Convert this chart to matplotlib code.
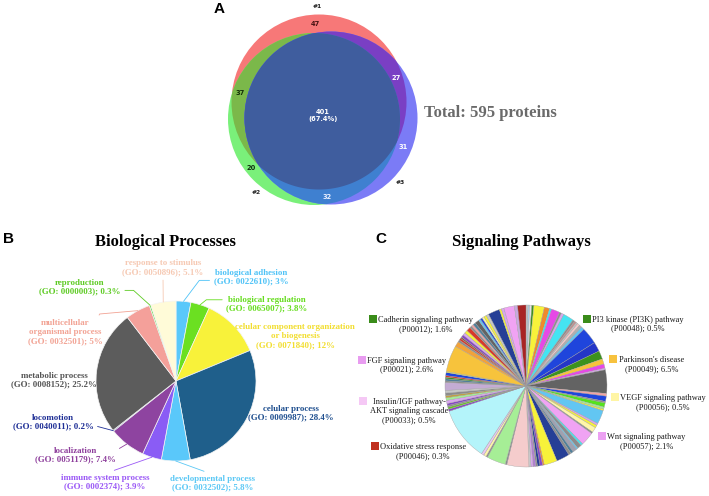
import numpy as np
import matplotlib
matplotlib.use("Agg")
import matplotlib.pyplot as plt
from matplotlib.patches import Circle, Polygon, Rectangle

# ---- data ----
# venn region counts: #1 only, #1&#2, #2 only, #2&#3, #3 only, #1&#3, all three
venn_counts = [47, 37, 20, 32, 31, 27, 401]
venn_sets = ["#1", "#2", "#3"]
total_proteins = 595

bp_names = ["biological adhesion", "biological regulation",
            "celular component organization\nor biogenesis", "celular process",
            "developmental process", "immune system process", "localization",
            "locomotion", "metabolic process", "multicellular\norganismal process",
            "reproduction", "response to stimulus"]
bp_go = ["0022610", "0065007", "0071840", "0009987", "0032502", "0002374",
         "0051179", "0040011", "0008152", "0032501", "0000003", "0050896"]
bp_pct = [3, 3.8, 12, 28.4, 5.8, 3.9, 7.4, 0.2, 25.2, 5, 0.3, 5.1]
bp_colors = ["#5ac8fa", "#6be021", "#f8f23a", "#1f5f8b", "#5ac8fa", "#8a5cf5",
             "#8e44a0", "#1c2a80", "#5c5c5c", "#f4a09a", "#5bd83a", "#fffbd8"]
bp_text_colors = ["#4fc3f7", "#66dd1e", "#f2de30", "#1f4f8f", "#5bc8f5", "#9b59f6",
                  "#8e3f9c", "#1f2f96", "#555555", "#f2a394", "#5ecb24", "#f6c9b3"]

# signaling pathway slices, clockwise from 12 o'clock
sp_vals = [0.4, 0.3, 0.4, 0.4, 2.0, 1.0, 0.4, 1.6, 0.4, 0.5, 2.0, 0.4, 0.4, 0.3, 0.5, 0.5, 0.6,
           3.2, 1.8, 1.6, 1.0, 0.8, 0.3, 4.5, 0.5, 1.0, 0.3, 0.8, 0.4, 0.3, 2.6, 0.4, 0.5, 1.0,
           0.3, 2.6, 0.4, 0.8, 0.3, 0.8, 0.5, 0.5, 2.5, 2.5, 0.3, 0.5, 0.5, 0.3, 0.5, 0.4, 0.4,
           4.2, 0.3, 3.6, 0.3, 0.5, 0.5, 10.2, 0.4, 0.4, 0.3, 0.4, 0.6, 0.5, 0.4, 0.5, 0.5,
           1.5, 0.3, 0.4, 0.3, 0.3, 0.6, 0.2, 5.0, 1.0, 0.4, 0.4, 0.3, 0.5, 0.5, 0.6, 0.8,
           0.4, 0.4, 0.5, 0.8, 0.4, 0.4, 0.4, 0.5, 0.5, 2.2, 0.4, 0.5, 2.0, 0.6, 1.6]
sp_colors = ["#c8c8c8", "#a8cde8", "#e4e4e4", "#3c921e", "#f7f23a", "#f08a2c", "#44e4f2",
             "#e649e6", "#8c8c8c", "#d9a6ef", "#44e4f2", "#8c8c8c", "#c09090", "#c8c8c8",
             "#f5c8c8", "#b0b0b0", "#62c6f2",
             "#1f45dc", "#2436c8", "#3c921e", "#f7c33c", "#e649e6", "#d9a6ef", "#636363",
             "#f2a3a3", "#1f45dc", "#8c8c8c", "#55e21e", "#a6ee96", "#f7f23a", "#62c6f2",
             "#d9a6ef", "#f7f23a", "#fff6a8", "#8c8c8c", "#f0a3f3", "#44e4f2", "#8c8c8c",
             "#62c6f2", "#a0a0b0", "#4f7f9a", "#8c8c8c", "#263f96", "#f7f23a", "#f08a2c",
             "#8646c6", "#263f96", "#8c8c8c", "#b080d0", "#d9a6ef", "#c8c8c8",
             "#f5cccc", "#8c8c8c", "#a6ee96", "#8c8c8c", "#fff6a8", "#e8c8f0", "#b4f4fa",
             "#8646c6", "#6cc22a", "#8c8c8c", "#8646c6", "#d9a6ef", "#a6ee96", "#c0a040",
             "#8c8c8c", "#c8c8c8", "#c4acd4", "#8c8c8c", "#4f7f9a", "#3c921e", "#d8392a",
             "#1f45dc", "#f7f23a", "#f7c33c", "#f2a23a", "#8c8c8c", "#d8392a", "#8a5a3a",
             "#8646c6", "#d9a6ef", "#f7f23a", "#d8392a", "#8c8c8c", "#f2a3a3", "#4f7f9a",
             "#636363", "#62c6f2", "#1f45dc", "#fff6a8", "#f7f23a", "#c8c8c8", "#263f96",
             "#f7f23a", "#d9a6ef", "#f0a3f3", "#c8a8e0", "#a82424"]

sp_legend = ["Cadherin signaling pathway\n(P00012); 1.6%",
             "PI3 kinase (PI3K) pathway\n(P00048); 0.5%",
             "FGF signaling pathway\n(P00021); 2.6%",
             "Parkinson's disease\n(P00049); 6.5%",
             "Insulin/IGF pathway-\nAKT signaling cascade\n(P00033); 0.5%",
             "VEGF signaling pathway\n(P00056); 0.5%",
             "Oxidative stress response\n(P00046); 0.3%",
             "Wnt signaling pathway\n(P00057); 2.1%"]
sp_legend_colors = ["#3a8c1a", "#3a8c1a", "#e89cf0", "#f7c23e",
                    "#f5c8f5", "#fff5a5", "#c0301f", "#eca0f2"]

# ---- layout (pixel coords, y down) ----
W, H = 709, 496
SERIF = "Liberation Serif"
SANS = "Liberation Sans"

venn_circles = [((319, 102), 87.5), ((314, 119), 86), ((331, 118), 86.5)]
venn_region_colors = ["#f77878", "#7bb84a", "#7af07a", "#3f80d0", "#7b7bf6", "#7a3fc4", "#3f5d9e"]
venn_count_pos = [(315, 24), (240, 93), (251, 168), (327, 197), (403, 147), (396, 78), (323, 115)]
venn_count_col = ["#4a1414", "#142e08", "#103010", "#e8eeff", "white", "white", "white"]
venn_set_pos = [(317, 7), (256, 192), (400, 182)]

bp_center, bp_r = (176, 381), 80
bp_text_pos = [(251, 277), (267, 304), (295, 336), (291, 413), (213, 483), (105, 482),
               (75, 455), (53, 422), (54, 380), (65, 332), (80, 287), (163, 267.5)]
# leader line: None = no line, else (relpos, connectionstyle)
bp_leader = [((0, 0.3), "angle,angleA=0,angleB=53,rad=0"),
             ((0, 0.75), "angle,angleA=0,angleB=39,rad=0"),
             None, None,
             ((0.5, 1), "arc3"),
             ((0.5, 1), "arc3"),
             ((1, 0.75), "arc3"),
             ((1, 0.3), "arc3"),
             None,
             ((0.85, 0.55), "angle,angleA=63,angleB=5,rad=0"),
             ((1, 0.3), "angle,angleA=0,angleB=138,rad=0"),
             ((0.5, 0), "arc3")]

sp_center, sp_r = (526, 386), 81
sp_text_pos = [(426, 324.3), (638, 324), (407, 365), (652, 364.7),
               (409, 411.4), (663, 402.8), (423, 451.3), (646.5, 441.3)]
sp_box_pos = [(373.3, 319.3), (586.7, 319.3), (361.7, 360), (613, 359.3),
              (363, 400.7), (615, 397.3), (375, 446), (601.7, 436)]

fig = plt.figure(figsize=(W / 100, H / 100), dpi=100)
base = fig.add_axes([0, 0, 1, 1])
base.set_xlim(0, W)
base.set_ylim(H, 0)
base.axis("off")


def circ(i, color):
    (cx, cy), r = venn_circles[i]
    return Circle((cx, cy), r, facecolor=color, edgecolor="none", transform=base.transData)


# venn: draw circles, then overlaps via clipping
red, olive, green, b23, blue, purple, core = venn_region_colors
base.add_patch(circ(0, red))
base.add_patch(circ(1, green))
p = circ(1, olive); base.add_patch(p); p.set_clip_path(circ(0, "none"))
base.add_patch(circ(2, blue))
p = circ(2, purple); base.add_patch(p); p.set_clip_path(circ(0, "none"))
p = circ(2, b23); base.add_patch(p); p.set_clip_path(circ(1, "none"))

# triple overlap polygon
t = np.linspace(0, 2 * np.pi, 1500)
pts = []
for (cx, cy), r in venn_circles:
    pts.append(np.c_[cx + r * np.cos(t), cy + r * np.sin(t)])
pts = np.vstack(pts)
inside = np.ones(len(pts), bool)
for (cx, cy), r in venn_circles:
    inside &= np.hypot(pts[:, 0] - cx, pts[:, 1] - cy) <= r + 1e-6
pts = pts[inside]
m = pts.mean(axis=0)
pts = pts[np.argsort(np.arctan2(pts[:, 1] - m[1], pts[:, 0] - m[0]))]
base.add_patch(Polygon(pts, closed=True, facecolor=core, edgecolor="none"))

for i, n in enumerate(venn_counts):
    s = str(n)
    if i == 6:
        s = "%d\n(%.1f%%)" % (n, 100 * n / total_proteins)
    base.text(*venn_count_pos[i], s, ha="center", va="center", fontsize=4.8,
              fontweight="bold", color=venn_count_col[i], family="DejaVu Sans")
for name, (x, y) in zip(venn_sets, venn_set_pos):
    base.text(x, y, name, ha="center", va="center", fontsize=4.3, fontweight="bold",
              color="#222222", family="DejaVu Sans")

base.text(424, 117, "Total: %d proteins" % total_proteins, ha="left", va="baseline",
          fontsize=12, fontweight="bold", color="#6a6a6a", family=SERIF)

# panel letters and titles
for s, (x, y) in zip("ABC", [(219, 9), (9, 239), (381, 239)]):
    base.text(x, y, s, ha="center", va="center", fontsize=11, fontweight="bold", family=SANS)
base.text(165, 242.5, "Biological Processes", ha="center", va="center", fontsize=12,
          fontweight="bold", family=SERIF)
base.text(521, 242, "Signaling Pathways", ha="center", va="center", fontsize=12,
          fontweight="bold", family=SERIF)


def pie_axes(center, r):
    cx, cy = center
    return fig.add_axes([(cx - r) / W, (H - cy - r) / H, 2 * r / W, 2 * r / H])


# panel B
axB = pie_axes(bp_center, bp_r)
wedges, _ = axB.pie(bp_pct, colors=bp_colors, startangle=90, counterclock=False,
                    wedgeprops=dict(edgecolor="#f4f4f4", linewidth=0.5))
axB.set_xlim(-1, 1)
axB.set_ylim(-1, 1)
for i, w in enumerate(wedges):
    label = "%s\n(GO: %s); %g%%" % (bp_names[i], bp_go[i], bp_pct[i])
    tx, ty = bp_text_pos[i]
    ang = np.deg2rad((w.theta1 + w.theta2) / 2)
    arrow = None
    if bp_leader[i] is not None:
        rel, cs = bp_leader[i]
        arrow = dict(arrowstyle="-", color=bp_text_colors[i], lw=0.6, shrinkA=1, shrinkB=0,
                     relpos=rel, connectionstyle=cs)
    axB.annotate(label, xy=(np.cos(ang), np.sin(ang)), xycoords="data",
                 xytext=(tx, H - ty), textcoords="figure pixels", ha="center", va="center",
                 fontsize=6.4, fontweight="bold", color=bp_text_colors[i], family=SERIF,
                 linespacing=1.15, arrowprops=arrow, annotation_clip=False)

# panel C
axC = pie_axes(sp_center, sp_r)
axC.pie(sp_vals, colors=sp_colors, startangle=90, counterclock=False,
        wedgeprops=dict(edgecolor="#a0a0a0", linewidth=0.25))
axC.set_xlim(-1, 1)
axC.set_ylim(-1, 1)
for i, label in enumerate(sp_legend):
    tx, ty = sp_text_pos[i]
    base.text(tx, ty, label, ha="center", va="center", fontsize=6, color="#1a1a1a",
              family=SERIF, linespacing=1.15)
    bx, by = sp_box_pos[i]
    base.add_patch(Rectangle((bx - 4, by - 4), 8, 8, facecolor=sp_legend_colors[i],
                             edgecolor="none"))

fig.savefig("out.png", dpi=100)
